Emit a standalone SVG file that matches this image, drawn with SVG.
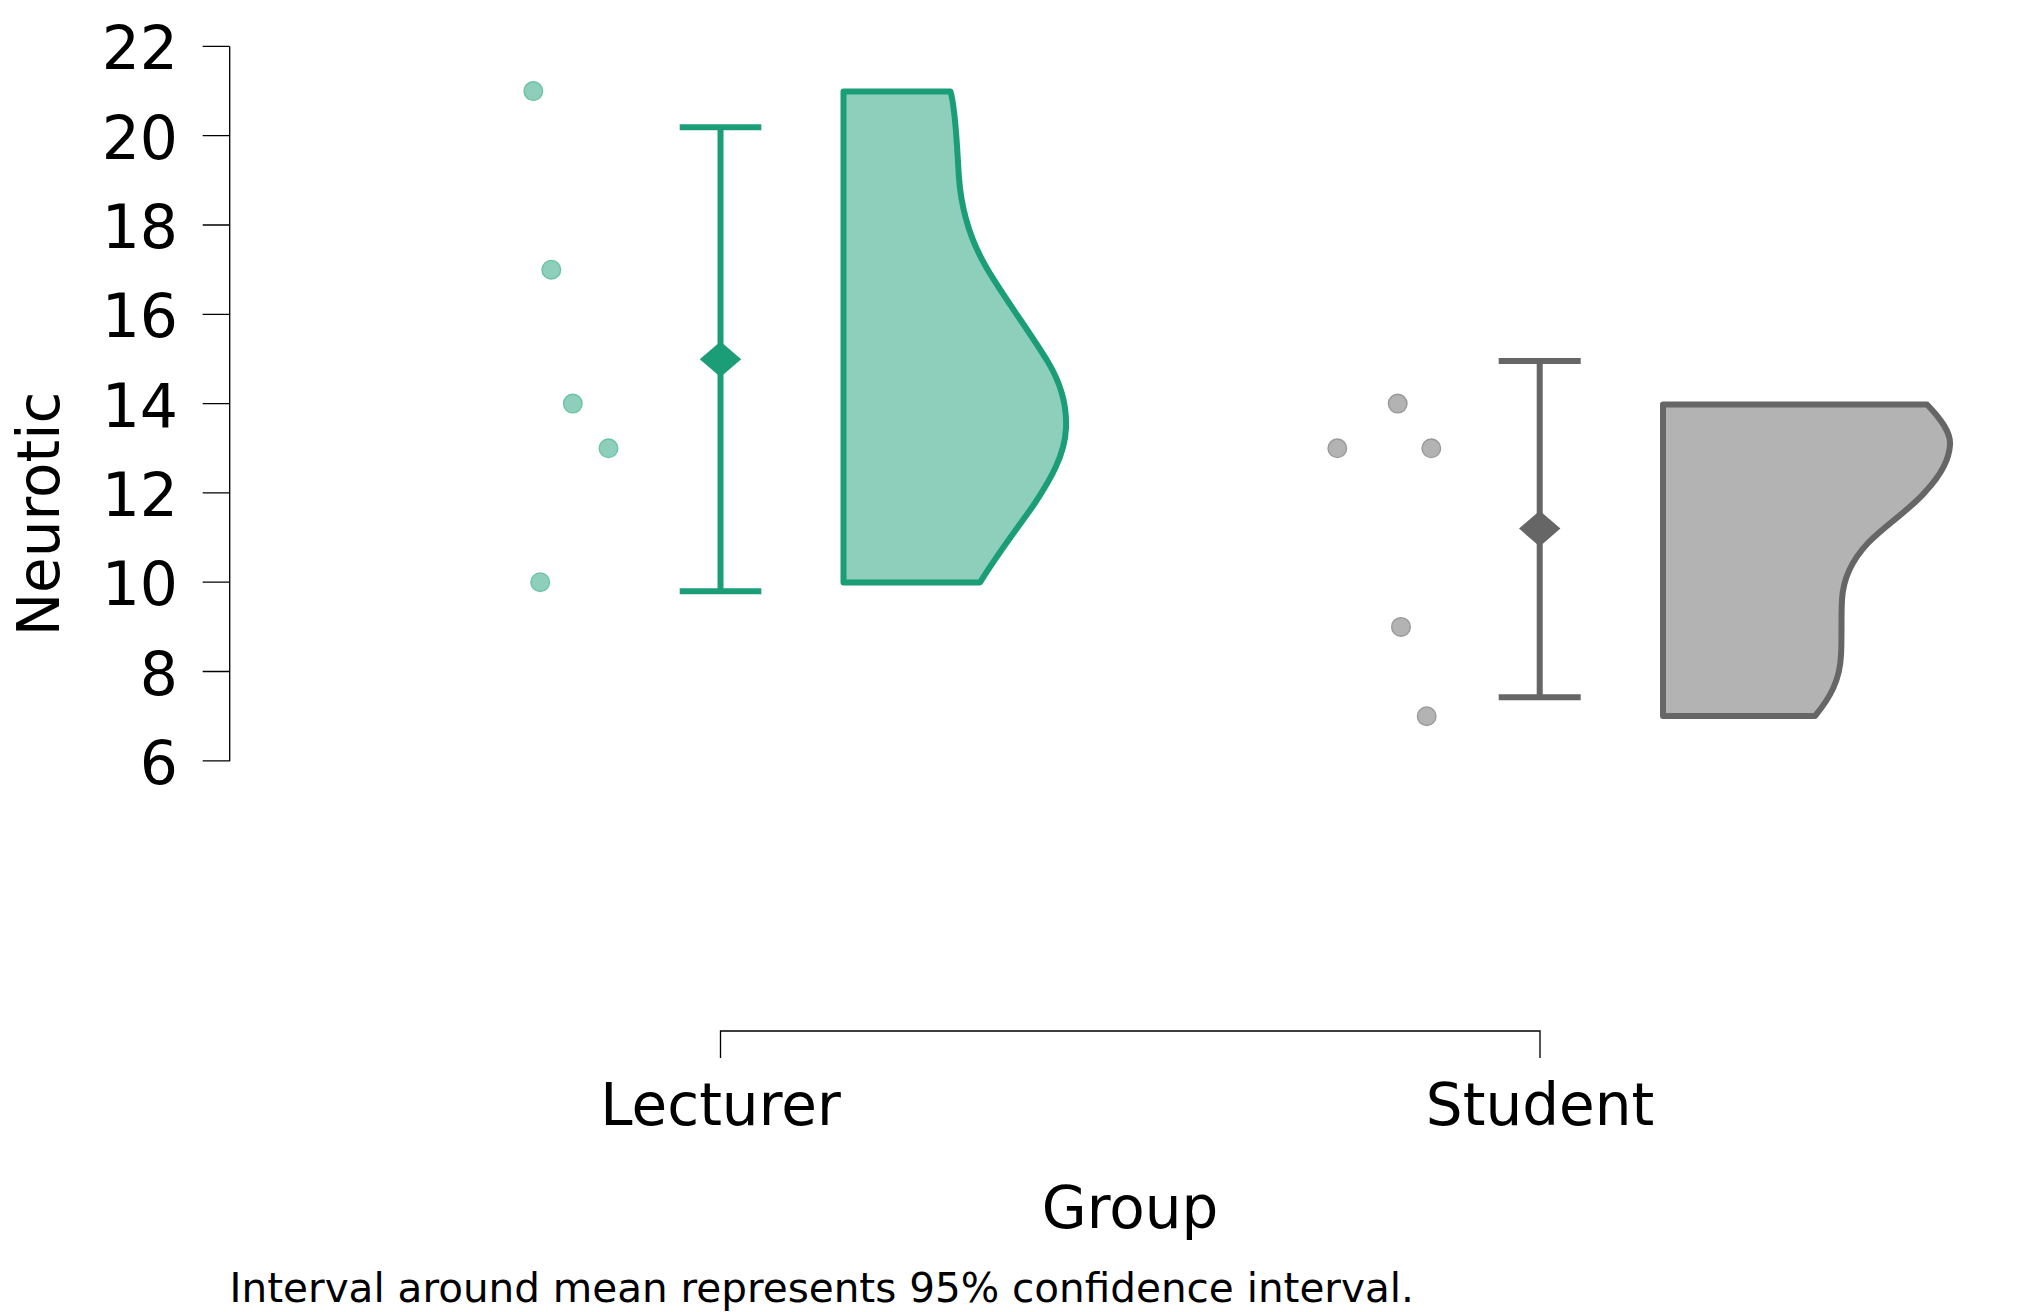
<svg xmlns="http://www.w3.org/2000/svg" width="2031" height="1312" viewBox="0 0 2031 1312">
<style>
.txt{font-family:"DejaVu Sans","Liberation Sans",sans-serif;fill:#000}
.tick{font-size:60px;text-anchor:end}
.lab{font-size:58px;text-anchor:middle}
.axis{stroke:#000;stroke-width:1.33;fill:none}
.dotL{fill:#8ecfbb;stroke:#6cc2a5;stroke-width:1.4}
.dotS{fill:#b3b3b3;stroke:#999999;stroke-width:1.4}
.ebL{stroke:#1b9e77;stroke-width:6;fill:none}
.ebS{stroke:#666666;stroke-width:6;fill:none}
.vioL{fill:#8ecfbb;stroke:#1b9e77;stroke-width:6;stroke-linejoin:round}
.vioS{fill:#b3b3b3;stroke:#666666;stroke-width:6;stroke-linejoin:round}
</style>
<rect x="0" y="0" width="2031" height="1312" fill="#ffffff"/>

<g id="y-axis">
  <path class="axis" d="M229.7,46.4 V761.2 M202.7,46.4 H229.7 M202.7,135.7 H229.7 M202.7,225 H229.7 M202.7,314.3 H229.7 M202.7,403.6 H229.7 M202.7,492.9 H229.7 M202.7,582.2 H229.7 M202.7,671.5 H229.7 M202.7,760.8 H229.7"/>
  <text class="txt tick" x="178" y="69.4">22</text>
  <text class="txt tick" x="178" y="158.7">20</text>
  <text class="txt tick" x="178" y="248">18</text>
  <text class="txt tick" x="178" y="337.3">16</text>
  <text class="txt tick" x="178" y="426.6">14</text>
  <text class="txt tick" x="178" y="515.9">12</text>
  <text class="txt tick" x="178" y="605.2">10</text>
  <text class="txt tick" x="178" y="694.5">8</text>
  <text class="txt tick" x="178" y="783.8">6</text>
  <text class="txt lab" transform="translate(59,514) rotate(-90)">Neurotic</text>
</g>

<g id="x-axis">
  <path class="axis" d="M720.5,1058 V1031 H1540 V1058"/>
  <text class="txt lab" x="720.5" y="1125">Lecturer</text>
  <text class="txt lab" x="1540" y="1125">Student</text>
  <text class="txt lab" x="1130" y="1228">Group</text>
</g>

<g id="lecturer">
  <g id="lecturer-points">
    <circle class="dotL" cx="533.3" cy="91.1" r="9.3"/>
    <circle class="dotL" cx="551.3" cy="269.7" r="9.3"/>
    <circle class="dotL" cx="572.8" cy="403.6" r="9.3"/>
    <circle class="dotL" cx="608.5" cy="448.3" r="9.3"/>
    <circle class="dotL" cx="540.2" cy="582.2" r="9.3"/>
  </g>
  <g id="lecturer-interval">
    <path class="ebL" d="M720.5,127.3 V591.3 M679.7,127.3 H761.3 M679.7,591.3 H761.3"/>
    <path fill="#1b9e77" d="M720.5,341.5 L741.2,359.3 L720.5,377.1 L699.8,359.3 Z"/>
  </g>
  <path id="lecturer-violin" class="vioL" d="M843.5,91.5 L950.5,91.5 C956,110 957,150 959,178 C961,205 968,235 985,265 C1000,292 1030,332 1048,362 C1060,382 1067,405 1066,428 C1065,455 1050,480 1035,503 C1020,525 1000,550 980,582.5 L843.5,582.5 Z"/>
</g>

<g id="student">
  <g id="student-points">
    <circle class="dotS" cx="1397.7" cy="403.6" r="9.3"/>
    <circle class="dotS" cx="1337.3" cy="448.3" r="9.3"/>
    <circle class="dotS" cx="1431.3" cy="448.3" r="9.3"/>
    <circle class="dotS" cx="1401" cy="626.9" r="9.3"/>
    <circle class="dotS" cx="1426.7" cy="716.2" r="9.3"/>
  </g>
  <g id="student-interval">
    <path class="ebS" d="M1539.7,361 V697.3 M1498.7,361 H1580.7 M1498.7,697.3 H1580.7"/>
    <path fill="#666666" d="M1539.7,510.8 L1560.4,528.6 L1539.7,546.4 L1519,528.6 Z"/>
  </g>
  <path id="student-violin" class="vioS" d="M1663,404.5 L1927,404.5 C1940,418 1951,432 1950,445 C1949,462 1938,478 1926,491 C1910,510 1885,525 1868,543 C1852,560 1843,578 1842,600 C1841,615 1842,640 1841,655 C1840,680 1830,698 1815,716 L1663,716 Z"/>
</g>

<g id="footnote">
  <text class="txt" x="229.6" y="1302" font-size="40.5">Interval around mean represents 95% confidence interval.</text>
</g>
<g id="connectors"></g>
</svg>
